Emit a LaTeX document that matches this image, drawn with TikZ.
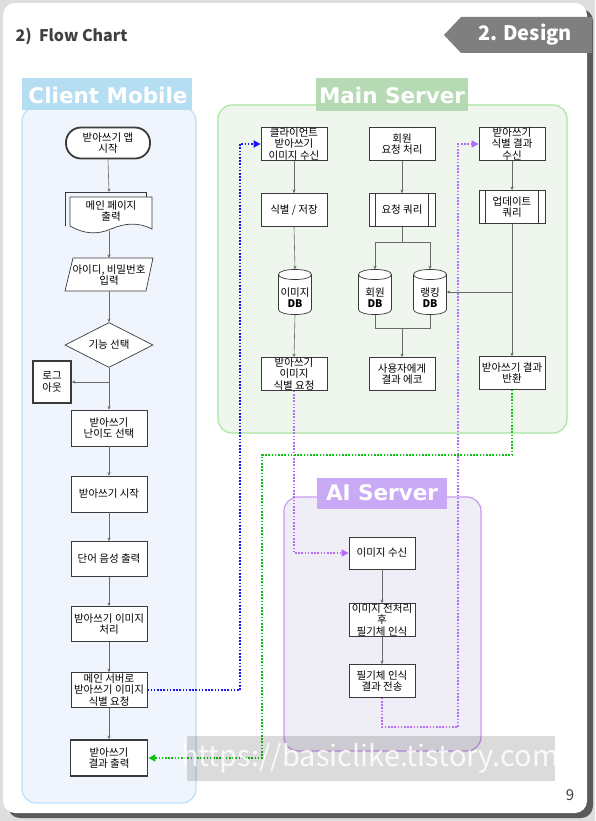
\documentclass[tikz,border=0pt]{standalone}
\usepackage{fontspec}
\setmainfont{Noto Sans CJK KR}
\newfontfamily\kr{Noto Sans CJK KR}
\newfontfamily\dv{DejaVu Sans}
\usetikzlibrary{shapes.geometric,arrows.meta,calc}
\definecolor{pagebg}{HTML}{DEDEDE}
\definecolor{shadowc}{HTML}{5A5A5A}
\definecolor{tagc}{HTML}{7F7F7F}
\definecolor{titlec}{HTML}{404040}
\definecolor{cmfill}{HTML}{F0F5FD}
\definecolor{cmedge}{HTML}{B8E2F8}
\definecolor{cmlab}{HTML}{B3DDF2}
\definecolor{msfill}{HTML}{EFF6EE}
\definecolor{msedge}{HTML}{A8E6A0}
\definecolor{mslab}{HTML}{B2D9B0}
\definecolor{aifill}{HTML}{EFEDF5}
\definecolor{aiedge}{HTML}{C89CF2}
\definecolor{ailab}{HTML}{C7A6F5}
\definecolor{edgec}{HTML}{3A3A3A}
\definecolor{linec}{HTML}{6A6A6A}
\definecolor{dblue}{HTML}{1A1AF0}
\definecolor{dpurple}{HTML}{B36BF5}
\definecolor{dgreen}{HTML}{10C010}
\tikzset{
  boxfont/.style={font=\kr\fontsize{10.5}{11.3}\selectfont, text=black},
  stepbox/.style={boxfont, draw=edgec, line width=0.7pt, fill=white, minimum width=66, minimum height=33, inner sep=0pt, align=center},
  thickbox/.style={stepbox, line width=1.8pt},
  edgeline/.style={draw=edgec, line width=0.7pt},
  flow/.style={draw=linec, line width=0.6pt, -{Stealth[length=3.5pt,width=3.2pt]}},
  plain/.style={draw=linec, line width=0.6pt},
  link/.style={line width=1.6pt, dash pattern=on 1.6pt off 1.6pt, -{Triangle[length=7pt,width=7pt]}},
  lanebox/.style={rounded corners=14, line width=1.2pt},
  lanetitle/.style={font=\dv\bfseries\fontsize{21.5}{23}\selectfont, text=white},
  dbbox/.style={minimum width=33, minimum height=45, inner sep=0pt},
  dbtext/.style={boxfont, align=center, inner sep=0pt},
}
\newcommand\mydb[4]{%
  \filldraw[fill=white, edgeline] (#2-16.5,#3-17.5) -- (#2-16.5,#3+17.5) .. controls +(0,6.7) and +(0,6.7) .. (#2+16.5,#3+17.5) -- (#2+16.5,#3-17.5) .. controls +(0,-6.7) and +(0,-6.7) .. (#2-16.5,#3-17.5) -- cycle;
  \draw[edgeline] (#2-16.5,#3-17.5) .. controls +(0,6.7) and +(0,6.7) .. (#2+16.5,#3-17.5);
  \node[dbbox] (#1) at (#2,#3) {};
  \node[dbtext] (#1t) at (#2,#3+6) {#4};
}
\newcommand\predef[1]{%
  \draw[edgeline] ($(#1.north west)+(7,0)$) -- ($(#1.south west)+(7,0)$);
  \draw[edgeline] ($(#1.north east)+(-7,0)$) -- ($(#1.south east)+(-7,0)$);
}
\begin{document}
\begin{tikzpicture}[x=1pt,y=-1pt]
\useasboundingbox (0,0) rectangle (595,821);
% page
\fill[pagebg] (0,0) rectangle (595,821);
\fill[shadowc, rounded corners=12] (8,9) rectangle (593,818);
\fill[white, rounded corners=12] (3,3) rectangle (587,813);
% header
\node[anchor=west, font=\kr\bfseries\fontsize{16}{18}\selectfont, text=titlec] (title) at (12,36) {2)\ \ Flow Chart};
\fill[tagc] (444,35) -- (461,17) -- (592,17) -- (592,53) -- (461,53) -- cycle;
\node[font=\kr\bfseries\fontsize{20}{22}\selectfont, text=white] (tag) at (525,35) {2. Design};

% lanes
\filldraw[lanebox, fill=cmfill, draw=cmedge] (22,107) rectangle (196,803);
\fill[cmlab, fill opacity=0.95] (22,78) rectangle (192,110);
\node[lanetitle] (cmt) at (108,95) {Client Mobile};

\filldraw[lanebox, fill=msfill, draw=msedge] (218,105) rectangle (567,433);
\fill[mslab, fill opacity=0.95] (316,78) rectangle (468,111);
\node[lanetitle] (mst) at (392,95) {Main Server};

\filldraw[lanebox, fill=aifill, draw=aiedge] (284,497) rectangle (481,751);
\fill[ailab, fill opacity=0.95] (317,478) rectangle (447,509);
\node[lanetitle] (ait) at (382,493) {AI Server};

% ---------- client ----------
\node[stepbox, line width=1.8pt, rounded corners=15, minimum width=84, minimum height=31] (start) at (108,143) {받아쓰기 앱\\시작};
% document shape
\draw[edgeline] (65,226) -- (65,192) -- (146,192) -- (146,197);
\filldraw[fill=white, edgeline] (70,197) -- (152,197) -- (152,229) .. controls (138,222) and (125,223) .. (111,229) .. controls (97,235) and (84,234) .. (70,226) -- cycle;
\node[boxfont, align=center, minimum width=82, minimum height=30, inner sep=0pt] (doc) at (111,211) {메인 페이지\\출력};
% parallelogram
\filldraw[fill=white, edgeline] (65,291) -- (73,258) -- (153,258) -- (146,291) -- cycle;
\node[boxfont, align=center, inner sep=0pt] (login) at (109,275) {아이디, 비밀번호\\입력};
\node[diamond, boxfont, draw=edgec, line width=0.7pt, fill=white, aspect=2, minimum width=88, minimum height=45, inner sep=0pt] (menu) at (109,345) {기능 선택};
\node[thickbox, minimum width=38, minimum height=42] (logout) at (52,382) {로그\\아웃};
\node[stepbox, minimum width=76, minimum height=36] (level) at (109,428) {받아쓰기\\난이도 선택};
\node[stepbox, minimum width=76, minimum height=36] (dstart) at (109,494) {받아쓰기 시작};
\node[stepbox, minimum width=76, minimum height=35] (audio) at (109,559) {단어 음성 출력};
\node[stepbox, minimum width=76, minimum height=35] (proc) at (109,624) {받아쓰기 이미지\\처리};
\node[stepbox, minimum width=76, minimum height=35] (req) at (109,690) {메인 서버로\\받아쓰기 이미지\\식별 요청};
\node[thickbox, minimum width=77, minimum height=36] (result) at (109,758) {받아쓰기\\결과 출력};

\draw[flow] (start.south) -- (109,192);
\draw[flow] (109,231) -- (login.center |- 0,258);
\draw[flow] (109,291) -- (menu.north);
\draw[flow] (menu.south) -- (level.north);
\draw[flow] (109,382) -- (logout.east);
\draw[flow] (level.south) -- (dstart.north);
\draw[flow] (dstart.south) -- (audio.north);
\draw[flow] (audio.south) -- (proc.north);
\draw[flow] (proc.south) -- (req.north);
\draw[flow] (req.south) -- (result.north);

% ---------- main server ----------
\node[stepbox] (clrecv) at (294,144) {클라이언트\\받아쓰기\\이미지 수신};
\node[stepbox] (idsave) at (294,210) {식별 / 저장};
\mydb{imgdb}{295}{292}{이미지\\\textbf{DB}}
\node[stepbox] (idreq) at (294,374) {받아쓰기\\이미지\\식별 요청};
\draw[flow] (clrecv.south) -- (idsave.north);
\draw[flow] (idsave.south) -- (imgdb.north);
\draw[flow] (imgdb.south) -- (idreq.north);

\node[stepbox] (memreq) at (402,144) {회원\\요청 처리};
\node[stepbox] (rquery) at (402,210) {요청 쿼리};
\predef{rquery}
\mydb{memdb}{375}{292}{회원\\\textbf{DB}}
\mydb{rankdb}{430}{292}{랭킹\\\textbf{DB}}
\node[stepbox] (echo) at (402,374) {사용자에게\\결과 에코};
\draw[flow] (memreq.south) -- (rquery.north);
\draw[plain] (rquery.south) -- (402,242);
\draw[plain] (375,242) -- (430,242);
\draw[flow] (375,242) -- (memdb.north);
\draw[flow] (430,242) -- (rankdb.north);
\draw[plain] (memdb.south) -- (375,328) -- (430,328) -- (rankdb.south);
\draw[flow] (402,328) -- (echo.north);

\node[stepbox] (resrecv) at (512,144) {받아쓰기\\식별 결과\\수신};
\node[stepbox] (upquery) at (512,207) {업데이트\\쿼리};
\predef{upquery}
\node[stepbox] (resret) at (512,373) {받아쓰기 결과\\반환};
\draw[flow] (resrecv.south) -- (upquery.north);
\draw[flow] (upquery.south) -- (resret.north);
\draw[flow] (512,292) -- (rankdb.east);

% ---------- AI server ----------
\node[stepbox, minimum height=32] (airecv) at (382,553) {이미지 수신};
\node[stepbox] (aipre) at (382,620) {이미지 전처리\\후\\필기체 인식};
\node[stepbox] (aisend) at (382,681) {필기체 인식\\결과 전송};
\draw[flow] (airecv.south) -- (aipre.north);
\draw[flow] (aipre.south) -- (aisend.north);

% ---------- dotted links ----------
\draw[link, dblue] (req.east) -- (240,690) -- (240,144) -- (clrecv.west);
\draw[link, dpurple] (idreq.south) -- (294,553) -- (airecv.west);
\draw[link, dpurple] (aisend.south) -- (382,727) -- (458,727) -- (458,144) -- (resrecv.west);
\draw[link, dgreen] (resret.south) -- (512,455) -- (262,455) -- (262,758) -- (result.east);

% watermark
\fill[black, fill opacity=0.14] (187,736) rectangle (555,781);
\node[font=\kr\fontsize{29}{31}\selectfont, text=white, text opacity=0.85, inner sep=0pt] (wm) at (370,758) {https://basiclike.tistory.com};
\node[font=\kr\fontsize{15}{17}\selectfont, text=titlec] (pnum) at (570,795) {9};
\end{tikzpicture}
\end{document}
